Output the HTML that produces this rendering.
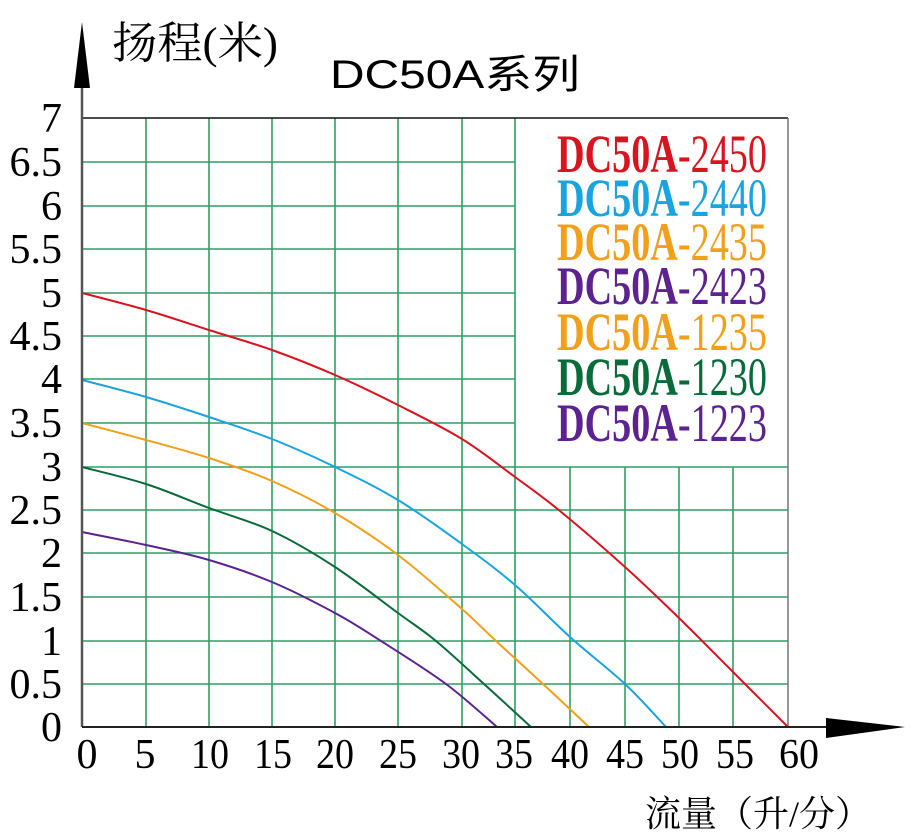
<!DOCTYPE html>
<html><head><meta charset="utf-8"><style>html,body{margin:0;padding:0;background:#fff}svg{display:block}</style></head>
<body>
<svg width="911" height="838" viewBox="0 0 911 838" xmlns="http://www.w3.org/2000/svg">
<g stroke="#2f9e62" stroke-width="1.6">
<line x1="146" y1="118" x2="146" y2="727"/><line x1="209" y1="118" x2="209" y2="727"/>
<line x1="272" y1="118" x2="272" y2="727"/><line x1="335" y1="118" x2="335" y2="727"/>
<line x1="398" y1="118" x2="398" y2="727"/><line x1="462" y1="118" x2="462" y2="727"/>
<line x1="515" y1="118" x2="515" y2="727"/>
<line x1="570" y1="467" x2="570" y2="727"/><line x1="625" y1="467" x2="625" y2="727"/>
<line x1="679" y1="467" x2="679" y2="727"/><line x1="733" y1="467" x2="733" y2="727"/>
<line x1="82" y1="162" x2="515" y2="162"/><line x1="82" y1="206" x2="515" y2="206"/>
<line x1="82" y1="249" x2="515" y2="249"/><line x1="82" y1="293" x2="515" y2="293"/>
<line x1="82" y1="336" x2="515" y2="336"/><line x1="82" y1="379" x2="515" y2="379"/>
<line x1="82" y1="423" x2="515" y2="423"/><line x1="82" y1="467" x2="788" y2="467"/>
<line x1="82" y1="510" x2="788" y2="510"/><line x1="82" y1="553" x2="788" y2="553"/>
<line x1="82" y1="597" x2="788" y2="597"/><line x1="82" y1="641" x2="788" y2="641"/>
<line x1="82" y1="684" x2="788" y2="684"/>
</g>
<line x1="82" y1="118" x2="788" y2="118" stroke="#111" stroke-width="1.5"/>
<line x1="788" y1="118" x2="788" y2="727" stroke="#777" stroke-width="1.5"/>
<g fill="none" stroke-width="2" stroke-linejoin="round">
<path class="c" stroke="#d7141f" data-p="82,293 146,310 209,330 272,350 335,375 398,405 462,439 515,477 560,511 625,567 679,618 733,672 788,727" d="M82,293 L146,310 209,330 272,350 335,375 398,405 462,439 515,477 560,511 625,567 679,618 733,672 788,727"/>
<path class="c" stroke="#1aa3de" data-p="82,380 146,397 209,417 272,439 335,467 398,500 462,544 515,585 570,637 625,684 666,727" d="M82,380 L146,397 209,417 272,439 335,467 398,500 462,544 515,585 570,637 625,684 666,727"/>
<path class="c" stroke="#f0a01a" data-p="82,423 146,440 209,458 272,481 335,513 398,555 462,609 496,641 543,684 589,727" d="M82,423 L146,440 209,458 272,481 335,513 398,555 462,609 496,641 543,684 589,727"/>
<path class="c" stroke="#0a6b3a" data-p="82,467 146,484 209,508 272,531 335,567 398,613 436,641 484,684 531,727" d="M82,467 L146,484 209,508 272,531 335,567 398,613 436,641 484,684 531,727"/>
<path class="c" stroke="#5c2390" data-p="82,532 146,545 209,560 272,582 335,613 381,641 446,684 497,727" d="M82,532 L146,545 209,560 272,582 335,613 381,641 446,684 497,727"/>
</g>
<line x1="82" y1="80" x2="82" y2="727" stroke="#555" stroke-width="2.5"/>
<polygon points="82,22 74,88 90,88" fill="#000"/>
<line x1="82" y1="727" x2="830" y2="727" stroke="#222" stroke-width="2"/>
<polygon points="905,727 826,718 826,738" fill="#000"/>
<g font-family="Liberation Serif, serif" font-size="42" fill="#000" text-anchor="end">
<text x="62" y="132">7</text><text x="62" y="176">6.5</text><text x="62" y="220">6</text>
<text x="62" y="263">5.5</text><text x="62" y="307">5</text><text x="62" y="350">4.5</text>
<text x="62" y="393">4</text><text x="62" y="437">3.5</text><text x="62" y="481">3</text>
<text x="62" y="524">2.5</text><text x="62" y="567">2</text><text x="62" y="611">1.5</text>
<text x="62" y="655">1</text><text x="62" y="698">0.5</text><text x="62" y="741">0</text>
</g>
<g font-family="Liberation Serif, serif" font-size="42" fill="#000" text-anchor="middle">
<text x="87" y="768">0</text><text x="145" y="768">5</text>
<text x="210" y="768" textLength="38" lengthAdjust="spacingAndGlyphs">10</text>
<text x="273" y="768" textLength="38" lengthAdjust="spacingAndGlyphs">15</text>
<text x="335" y="768" textLength="38" lengthAdjust="spacingAndGlyphs">20</text>
<text x="398" y="768" textLength="38" lengthAdjust="spacingAndGlyphs">25</text>
<text x="461" y="768" textLength="38" lengthAdjust="spacingAndGlyphs">30</text>
<text x="514" y="768" textLength="38" lengthAdjust="spacingAndGlyphs">35</text>
<text x="570" y="768" textLength="38" lengthAdjust="spacingAndGlyphs">40</text>
<text x="625" y="768" textLength="38" lengthAdjust="spacingAndGlyphs">45</text>
<text x="680" y="768" textLength="38" lengthAdjust="spacingAndGlyphs">50</text>
<text x="735" y="768" textLength="38" lengthAdjust="spacingAndGlyphs">55</text>
<text x="799" y="768" textLength="40" lengthAdjust="spacingAndGlyphs">60</text>
</g>
<text x="112" y="58" font-family="Liberation Serif, Noto Serif CJK SC, serif" font-size="44" textLength="166" lengthAdjust="spacingAndGlyphs">扬程(米)</text>
<text x="330" y="88" font-family="Liberation Sans, Noto Sans CJK SC, sans-serif" font-size="40" textLength="250" lengthAdjust="spacingAndGlyphs">DC50A系列</text>
<text x="645" y="826" font-family="Liberation Serif, Noto Serif CJK SC, serif" font-size="36" textLength="226" lengthAdjust="spacingAndGlyphs">流量（升/分）</text>
<g font-family="Liberation Serif, serif" font-size="54">
<text x="557" y="172" fill="#d7141f" textLength="210" lengthAdjust="spacingAndGlyphs"><tspan font-weight="bold">DC50A</tspan>-2450</text>
<text x="557" y="216" fill="#1aa3de" textLength="210" lengthAdjust="spacingAndGlyphs"><tspan font-weight="bold">DC50A</tspan>-2440</text>
<text x="557" y="260" fill="#f0a01a" textLength="210" lengthAdjust="spacingAndGlyphs"><tspan font-weight="bold">DC50A</tspan>-2435</text>
<text x="557" y="304" fill="#5c2390" textLength="210" lengthAdjust="spacingAndGlyphs"><tspan font-weight="bold">DC50A</tspan>-2423</text>
<text x="557" y="350" fill="#f0a01a" textLength="210" lengthAdjust="spacingAndGlyphs"><tspan font-weight="bold">DC50A</tspan>-1235</text>
<text x="557" y="395" fill="#0a6b3a" textLength="210" lengthAdjust="spacingAndGlyphs"><tspan font-weight="bold">DC50A</tspan>-1230</text>
<text x="557" y="441" fill="#5c2390" textLength="210" lengthAdjust="spacingAndGlyphs"><tspan font-weight="bold">DC50A</tspan>-1223</text>
</g>
</svg>
<script>
document.querySelectorAll('path.c').forEach(function(el){
  var p=el.getAttribute('data-p').split(' ').map(function(s){return s.split(',').map(Number);});
  var d='M'+p[0][0]+','+p[0][1];
  for(var i=0;i<p.length-1;i++){
    var p0=p[i-1]||p[i],p1=p[i],p2=p[i+1],p3=p[i+2]||p2;
    var c1x=p1[0]+(p2[0]-p0[0])/6,c1y=p1[1]+(p2[1]-p0[1])/6;
    var c2x=p2[0]-(p3[0]-p1[0])/6,c2y=p2[1]-(p3[1]-p1[1])/6;
    d+=' C'+c1x.toFixed(1)+','+c1y.toFixed(1)+' '+c2x.toFixed(1)+','+c2y.toFixed(1)+' '+p2[0]+','+p2[1];
  }
  el.setAttribute('d',d);
});
</script>
</body></html>
